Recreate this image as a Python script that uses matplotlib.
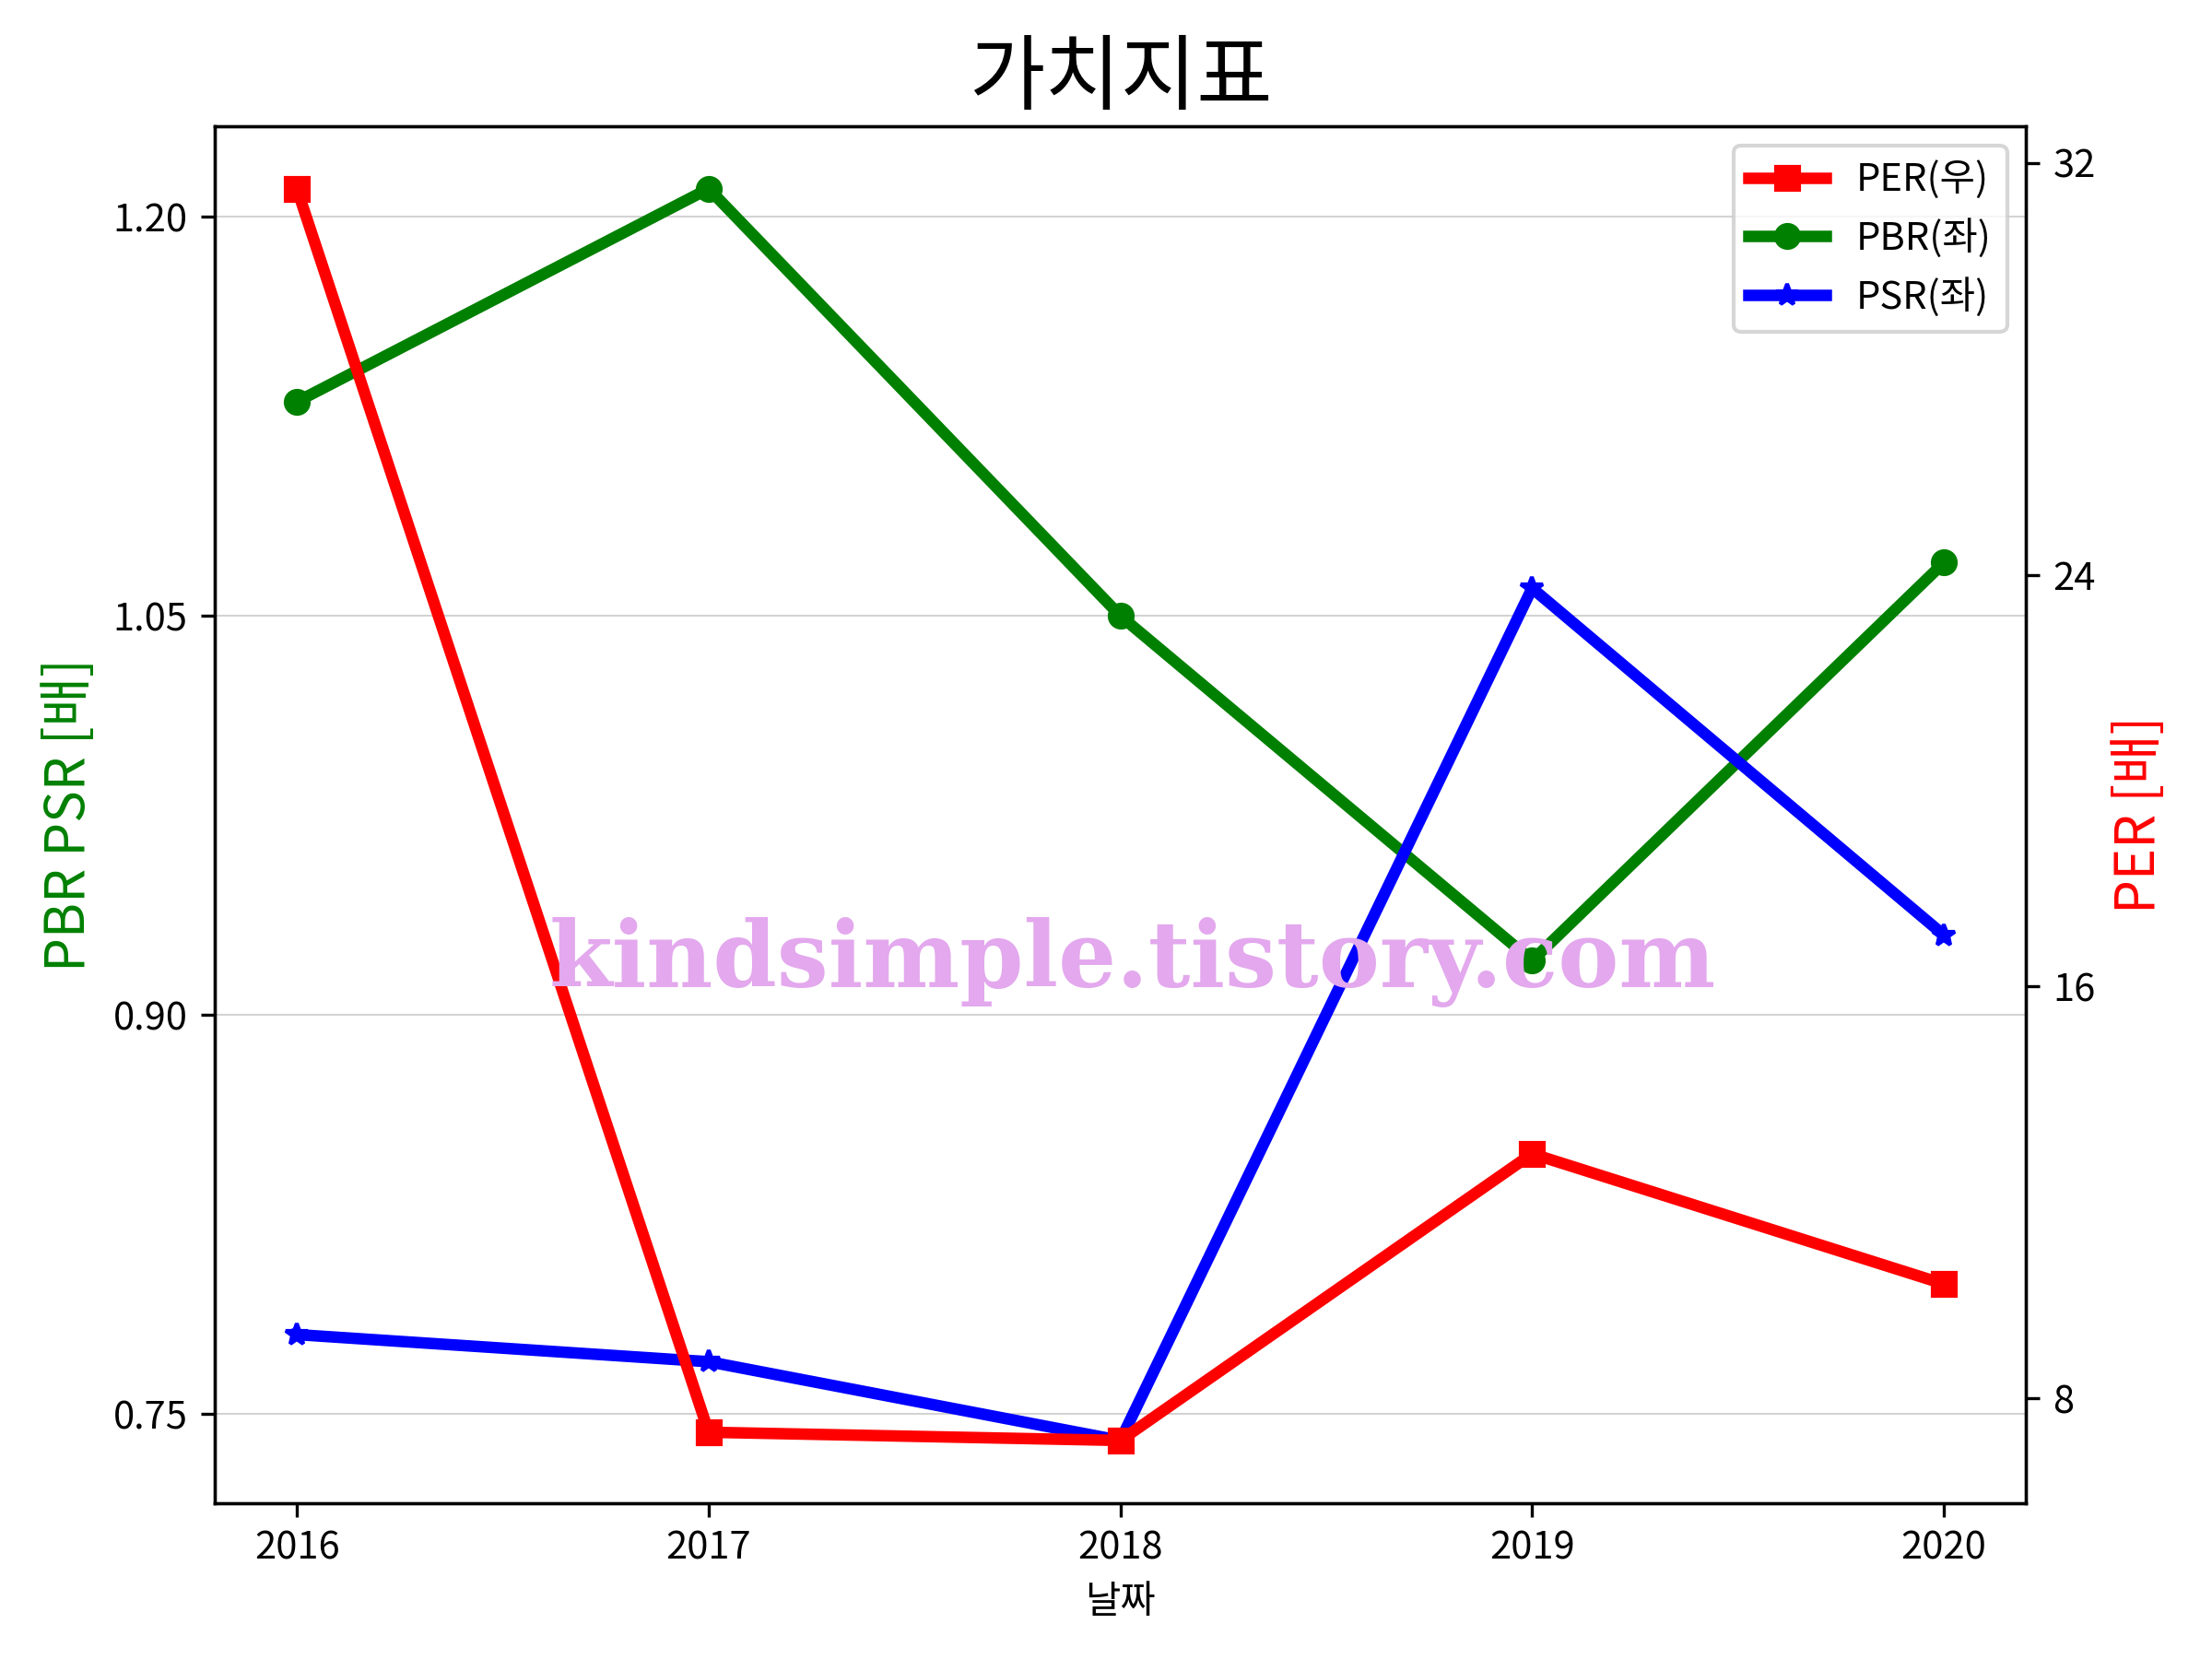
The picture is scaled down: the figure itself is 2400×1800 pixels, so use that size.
import matplotlib
matplotlib.use("Agg")
import matplotlib.pyplot as plt

plt.rcParams['font.family'] = ['Noto Sans CJK KR', 'DejaVu Sans']
plt.rcParams['axes.unicode_minus'] = False

years = ['2016', '2017', '2018', '2019', '2020']
per = [31.5, 7.34, 7.18, 12.75, 10.22]
pbr = [1.1305, 1.2106, 1.050, 0.9204, 1.070]
psr = [0.7798, 0.7696, 0.740, 1.0604, 0.930]

fig, ax1 = plt.subplots(figsize=(8, 6), dpi=300)
ax2 = ax1.twinx()

l_per, = ax2.plot(years, per, color='red', marker='s', lw=3, label='PER(우)')
l_pbr, = ax1.plot(years, pbr, color='green', marker='o', lw=3, label='PBR(좌)')
l_psr, = ax1.plot(years, psr, color='blue', marker='*', lw=3, label='PSR(좌)')

ax1.set_yticks([0.75, 0.90, 1.05, 1.20])
ax1.set_yticklabels(['0.75', '0.90', '1.05', '1.20'])
ax2.set_yticks([8, 16, 24, 32])
ax1.grid(axis='y', color='lightgray', lw=0.5)
ax1.set_axisbelow(True)

ax1.set_xlabel('날짜')
ax1.set_ylabel('PBR PSR [배]', color='green', fontsize=14)
ax2.set_ylabel('PER [배]', color='red', fontsize=14)
ax1.set_title('가치지표', fontsize=21.5)

ax2.legend(handles=[l_per, l_pbr, l_psr], loc='upper right')

fig.text(0.512, 0.42, 'kindsimple.tistory.com', family='DejaVu Serif',
         weight='heavy', fontsize=23.8, color=(0.89, 0.66, 0.93),
         ha='center', va='center', zorder=10)

fig.subplots_adjust(left=0.097, right=0.916, top=0.924, bottom=0.094)
fig.savefig('out.png', dpi=300)
